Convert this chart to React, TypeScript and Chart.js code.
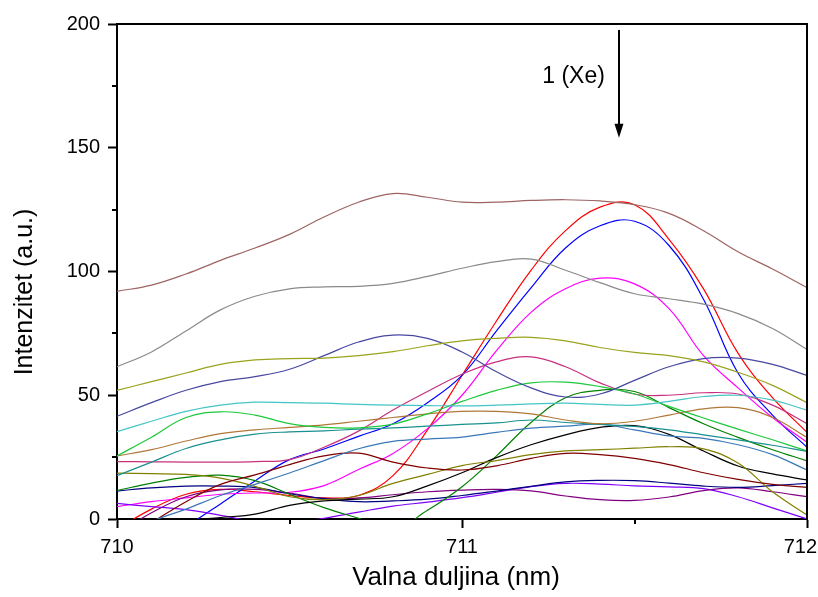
import { useEffect, useRef } from 'react';
import { Chart, registerables } from 'chart.js';

Chart.register(...registerables);

const FONT = "'Liberation Sans', Arial, sans-serif";

// x positions (nm)
const wavelengths = [
  710.0, 710.1, 710.2, 710.3, 710.4, 710.5, 710.6, 710.7, 710.8, 710.9, 711.0,
  711.1, 711.2, 711.3, 711.4, 711.5, 711.6, 711.7, 711.8, 711.9, 712.0,
];

// series values (a.u.)
const roseBrown = [92, 94.5, 99, 104.5, 109.5, 115, 122, 128, 131.5, 130, 128, 128, 128.7, 129, 128.5, 127, 123.5, 116.5, 108, 101, 93.5];
const gray = [61.5, 67.5, 76, 84.5, 90, 93, 93.8, 94, 95.2, 98, 101.3, 104, 105, 100.5, 95.5, 91, 89, 86.8, 83, 77, 68.5];
const red = [-4, 4, 10, 12, 11, 9.5, 8.5, 9.5, 17.5, 36, 58, 80, 100.5, 116.5, 126, 127, 113, 93, 67, 49, 35];
const blue = [-20, -11, -3, 6.1, 15.4, 24, 28.3, 33.4, 38.5, 47, 58, 76, 93.4, 109.5, 118.5, 120.3, 110.5, 88.8, 59, 42, 29];
const magenta = [5, 7, 8.5, 10, 10.5, 10.8, 13.5, 20, 26.5, 36.5, 50, 68, 83.5, 93, 97.3, 95, 85, 66, 53, 41, 31];
const oliveYellow = [52, 55.5, 59, 62.5, 64.3, 64.8, 65, 66, 67.6, 70, 72, 73, 73.4, 72, 69.3, 67.3, 66, 63.5, 59.3, 54, 47];
const slate = [41.5, 47, 52, 55.5, 57.5, 60.5, 66, 71.5, 74.3, 73, 67.5, 59.5, 53, 49.3, 50.5, 56, 61.5, 64.8, 65, 62.5, 58];
const crimson = [23.2, 23.1, 23, 23, 23.2, 24, 29, 35.5, 44, 51.5, 58.5, 63.5, 65.5, 61.5, 55, 50.5, 50, 51, 50.5, 46, 38.5];
const brightGreen = [25.5, 33, 41, 43.3, 42, 38.5, 37, 36.8, 38.3, 42.5, 47.5, 52, 55, 55.3, 53.5, 50.5, 45.5, 40.8, 36.3, 32, 27.5];
const cyan = [35.3, 39.5, 43.5, 46, 47.2, 47, 46.8, 46.3, 46, 45.8, 45.7, 46, 46.5, 46.8, 46.3, 46, 47.5, 49.5, 50, 48, 44];
const brown = [25.5, 28, 31.5, 34.5, 36, 37, 38, 39.5, 41, 42.5, 43.5, 43.5, 42.5, 40, 38.5, 39.5, 42, 44.5, 45, 41, 33];
const teal = [17.5, 23, 28.5, 32, 34.3, 35.2, 35.6, 36.3, 36.8, 37.5, 38.2, 38.8, 40, 39, 38.2, 37.4, 36, 34, 32, 29.8, 27.3];
const steelBlue = [-8, -1, 4, 9.5, 14, 18.6, 23.6, 28.4, 31.4, 32.3, 33.1, 35, 36.7, 37.5, 38.3, 36, 33.6, 32.6, 30, 26, 19.8];
const darkRed = [-10, -1.5, 7, 14, 17.8, 22, 25.5, 26.6, 23, 20.6, 19.8, 21.5, 24.5, 26.5, 26, 24.5, 22, 18.7, 16, 14, 12.8];
const oliveDark = [18.5, 18.3, 18, 16.5, 13.2, 9, 7.8, 9.5, 14.4, 18, 21.6, 23.6, 26, 27.5, 28, 28.6, 29.2, 28.3, 22.6, 11, 1.6];
const black = [-6, -3, -0.8, 0.6, 2, 5.5, 7.3, 8, 9, 13.4, 18.7, 24.8, 30, 34, 37, 37.7, 34.2, 27.5, 21.4, 18.2, 15.8];
const darkGreen = [11.5, 14.5, 16.8, 17.7, 15.5, 10, 4.6, 0.3, -4, 3.5, 13, 25.5, 39, 49, 52, 51.5, 45, 38.5, 33, 28, 23.5];
const navy = [11.3, 12.6, 13.3, 13.3, 12.7, 10.2, 8.2, 7, 7.3, 8, 9.5, 11.3, 13.2, 15, 15.6, 15.5, 14.5, 13.3, 12.8, 13.5, 14.4];
const purple = [-6, 2.5, 9, 11.8, 12, 10.5, 8.3, 8.5, 9.8, 11, 11.7, 12, 11.4, 9.3, 7.8, 7.5, 8.9, 11.5, 12.6, 11, 9];
const violet = [6.3, 5, 3.8, 1.5, -1, -1.5, 0.3, 2.8, 5.2, 6.8, 8.6, 10.8, 13.1, 14.4, 14.1, 13.4, 13, 12.3, 9, 4.5, 0];

// axis ticks
const xMajorTicks = [710, 711, 712];
const xMinorTicks = [710.5, 711.5];
const yMajorTicks = [0, 50, 100, 150, 200];
const yMinorTicks = [25, 75, 125, 175];

// annotation (data units)
const annotationText = '1 (Xe)';
const annotationTextX = 711.414;
const annotationTextY = 178.6;
const arrowX = 711.455;
const arrowTopY = 197.6;
const arrowTipY = 154;

const seriesList: { values: number[]; color: string }[] = [
  { values: roseBrown, color: '#9e6464' },
  { values: gray, color: '#8a8a8a' },
  { values: oliveYellow, color: '#9aa31c' },
  { values: slate, color: '#4848a2' },
  { values: cyan, color: '#44c4c4' },
  { values: brightGreen, color: '#1ec83c' },
  { values: brown, color: '#b07838' },
  { values: teal, color: '#1a9090' },
  { values: crimson, color: '#c8307e' },
  { values: steelBlue, color: '#3a78b8' },
  { values: darkRed, color: '#800000' },
  { values: oliveDark, color: '#808000' },
  { values: black, color: '#000000' },
  { values: darkGreen, color: '#008000' },
  { values: navy, color: '#000080' },
  { values: purple, color: '#800080' },
  { values: violet, color: '#8000ff' },
  { values: magenta, color: '#ff00ff' },
  { values: blue, color: '#0000ff' },
  { values: red, color: '#ff0000' },
];

const decorPlugin = {
  id: 'decor',
  afterDraw(chart: any) {
    const { ctx, chartArea: a, scales, width } = chart;
    const x = scales.x;
    const y = scales.y;
    ctx.save();
    ctx.strokeStyle = '#000';
    ctx.fillStyle = '#000';
    ctx.lineWidth = 2;
    // frame top & right
    ctx.beginPath();
    ctx.moveTo(a.left, a.top);
    ctx.lineTo(a.right, a.top);
    ctx.lineTo(a.right, a.bottom);
    ctx.stroke();
    // minor ticks
    ctx.beginPath();
    for (const v of yMinorTicks) {
      const py = Math.round(y.getPixelForValue(v));
      ctx.moveTo(a.left - 5, py);
      ctx.lineTo(a.left, py);
    }
    for (const v of xMinorTicks) {
      const px = Math.round(x.getPixelForValue(v));
      ctx.moveTo(px, a.bottom);
      ctx.lineTo(px, a.bottom + 5);
    }
    ctx.stroke();
    // x tick labels (kept inside the canvas)
    ctx.font = `20px ${FONT}`;
    ctx.textAlign = 'left';
    ctx.textBaseline = 'alphabetic';
    for (const v of xMajorTicks) {
      const label = String(v);
      const w = ctx.measureText(label).width;
      let left = x.getPixelForValue(v) - w / 2;
      if (left + w > width - 1) left = width - 1 - w;
      ctx.fillText(label, left, a.bottom + 34);
    }
    // annotation arrow
    const ax = x.getPixelForValue(arrowX);
    const ay0 = y.getPixelForValue(arrowTopY);
    const ay1 = y.getPixelForValue(arrowTipY);
    ctx.beginPath();
    ctx.moveTo(ax, ay0);
    ctx.lineTo(ax, ay1 - 10);
    ctx.stroke();
    ctx.beginPath();
    ctx.moveTo(ax - 4.5, ay1 - 14);
    ctx.lineTo(ax + 4.5, ay1 - 14);
    ctx.lineTo(ax, ay1);
    ctx.closePath();
    ctx.fill();
    // annotation text
    ctx.font = `23px ${FONT}`;
    ctx.textAlign = 'right';
    ctx.textBaseline = 'middle';
    ctx.fillText(annotationText, x.getPixelForValue(annotationTextX), y.getPixelForValue(annotationTextY));
    // axis titles
    ctx.font = `26px ${FONT}`;
    ctx.textAlign = 'center';
    ctx.textBaseline = 'alphabetic';
    ctx.fillText('Valna duljina (nm)', 456, 585);
    ctx.translate(32, 292);
    ctx.rotate(-Math.PI / 2);
    ctx.font = `25px ${FONT}`;
    ctx.fillText('Intenzitet (a.u.)', 0, 0);
    ctx.restore();
  },
};

export default function App() {
  const ref = useRef<HTMLCanvasElement | null>(null);
  useEffect(() => {
    if (!ref.current) return;
    const chart = new Chart(ref.current, {
      type: 'line',
      data: {
        datasets: seriesList.map((s, i) => ({
          label: 'S' + (i + 1),
          data: wavelengths.map((w, j) => ({ x: w, y: s.values[j] })),
          borderColor: s.color,
          backgroundColor: s.color,
          borderWidth: 1.2,
          pointRadius: 0,
          fill: false,
          tension: 0.4,
        })),
      },
      options: {
        animation: false,
        responsive: false,
        devicePixelRatio: 1,
        layout: { padding: { top: 24, right: 11, left: 0, bottom: 0 } },
        plugins: { legend: { display: false }, tooltip: { enabled: false } },
        scales: {
          x: {
            type: 'linear',
            min: 710,
            max: 712,
            afterBuildTicks: (s: any) => {
              s.ticks = xMajorTicks.map((v) => ({ value: v }));
            },
            afterFit: (s: any) => {
              s.height = 78;
              s.paddingLeft = 0;
              s.paddingRight = 0;
            },
            ticks: {
              display: false,
              autoSkip: false,
            },
            grid: { drawOnChartArea: false, drawTicks: true, tickLength: 9, tickWidth: 2, tickColor: '#000' },
            border: { color: '#000', width: 2 },
          },
          y: {
            min: 0,
            max: 200,
            afterBuildTicks: (s: any) => {
              s.ticks = yMajorTicks.map((v) => ({ value: v }));
            },
            afterFit: (s: any) => {
              s.width = 117;
              s.paddingTop = 0;
              s.paddingBottom = 0;
            },
            ticks: {
              color: '#000',
              font: { family: FONT, size: 20 },
              padding: 8,
              autoSkip: false,
              callback: (v: any) => String(v),
            },
            grid: { drawOnChartArea: false, tickLength: 9, tickWidth: 2, tickColor: '#000' },
            border: { color: '#000', width: 2 },
          },
        },
      },
      plugins: [decorPlugin],
    });
    return () => chart.destroy();
  }, []);
  return (
    <div style={{ position: 'fixed', left: 0, top: 0, width: 818, height: 597, background: '#fff' }}>
      <canvas ref={ref} width={818} height={597} style={{ width: 818, height: 597 }} />
    </div>
  );
}
